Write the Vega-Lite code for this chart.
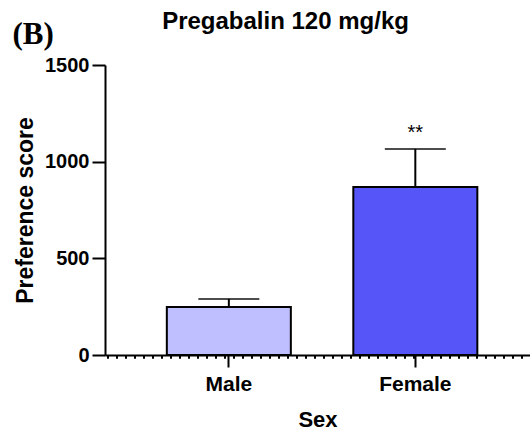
{
  "$schema": "https://vega.github.io/schema/vega-lite/v6.json",
  "autosize": {"type": "none"},
  "padding": {"left": 105, "top": 65, "right": 0, "bottom": 78},
  "width": 425,
  "height": 290,
  "background": "white",
  "title": {
    "text": "Pregabalin 120 mg/kg",
    "font": "Liberation Sans",
    "fontSize": 24,
    "fontWeight": "bold",
    "color": "black",
    "anchor": "middle",
    "dx": -32,
    "offset": -16
  },
  "config": {
    "view": {"stroke": null},
    "font": "Liberation Sans"
  },
  "data": {
    "values": [
      {"sex": "Male", "mean": 248, "upper": 290, "sig": ""},
      {"sex": "Female", "mean": 869, "upper": 1066, "sig": "**"}
    ]
  },
  "resolve": {"axis": {"x": "independent"}},
  "layer": [
    {
      "mark": {"type": "bar", "stroke": "black", "strokeWidth": 2},
      "encoding": {
        "x": {
          "field": "sex",
          "type": "nominal",
          "sort": ["Male", "Female"],
          "scale": {"paddingInner": 0.335, "paddingOuter": 0.307, "align": 0.54},
          "axis": {
            "title": "Sex",
            "labelAngle": 0,
            "labelFont": "Liberation Sans",
            "labelFontSize": 21,
            "labelFontWeight": "bold",
            "labelColor": "black",
            "labelPadding": 6,
            "tickSize": 12,
            "tickWidth": 2,
            "tickColor": "black",
            "domainColor": "black",
            "domainWidth": 2,
            "titleFont": "Liberation Sans",
            "titleFontSize": 22,
            "titleFontWeight": "bold",
            "titleColor": "black",
            "titlePadding": 15
          }
        },
        "y": {
          "field": "mean",
          "type": "quantitative",
          "scale": {"domain": [0, 1500], "nice": false},
          "axis": {
            "title": "Preference score",
            "values": [0, 500, 1000, 1500],
            "format": "d",
            "grid": false,
            "labelFont": "Liberation Sans",
            "labelFontSize": 20,
            "labelFontWeight": "bold",
            "labelColor": "black",
            "labelPadding": 3,
            "tickSize": 13,
            "tickWidth": 2,
            "tickColor": "black",
            "domainColor": "black",
            "domainWidth": 2,
            "titleFont": "Liberation Sans",
            "titleFontSize": 23,
            "titleFontWeight": "bold",
            "titleColor": "black",
            "titlePadding": 7
          }
        },
        "color": {
          "field": "sex",
          "type": "nominal",
          "scale": {"domain": ["Male", "Female"], "range": ["#BFBFFF", "#5656F8"]},
          "legend": null
        }
      }
    },
    {
      "mark": {"type": "rule", "color": "black", "strokeWidth": 2},
      "encoding": {
        "x": {"field": "sex", "type": "nominal", "sort": ["Male", "Female"], "axis": null},
        "y": {"field": "mean", "type": "quantitative"},
        "y2": {"field": "upper"}
      }
    },
    {
      "mark": {"type": "tick", "color": "black", "thickness": 2, "size": 61},
      "encoding": {
        "x": {"field": "sex", "type": "nominal", "sort": ["Male", "Female"], "axis": null},
        "y": {"field": "upper", "type": "quantitative"}
      }
    },
    {
      "mark": {"type": "rule", "color": "black", "strokeWidth": 3, "strokeDash": [2, 7], "strokeDashOffset": -7, "yOffset": 2},
      "encoding": {"y": {"datum": 0}}
    },
    {
      "mark": {"type": "text", "font": "Liberation Sans", "fontSize": 20, "color": "black", "baseline": "alphabetic", "dy": -10},
      "encoding": {
        "x": {
          "field": "sex",
          "type": "nominal",
          "sort": ["Male", "Female"],
          "axis": {
            "orient": "top",
            "title": "(B)",
            "labels": false,
            "ticks": false,
            "domain": false,
            "titleFont": "Liberation Serif",
            "titleFontSize": 31,
            "titleFontWeight": "bold",
            "titleColor": "black",
            "titleAnchor": "start",
            "titleAlign": "left",
            "titleBaseline": "alphabetic",
            "titleX": -93,
            "titleY": -22
          }
        },
        "y": {"field": "upper", "type": "quantitative"},
        "text": {"field": "sig"}
      }
    }
  ]
}
